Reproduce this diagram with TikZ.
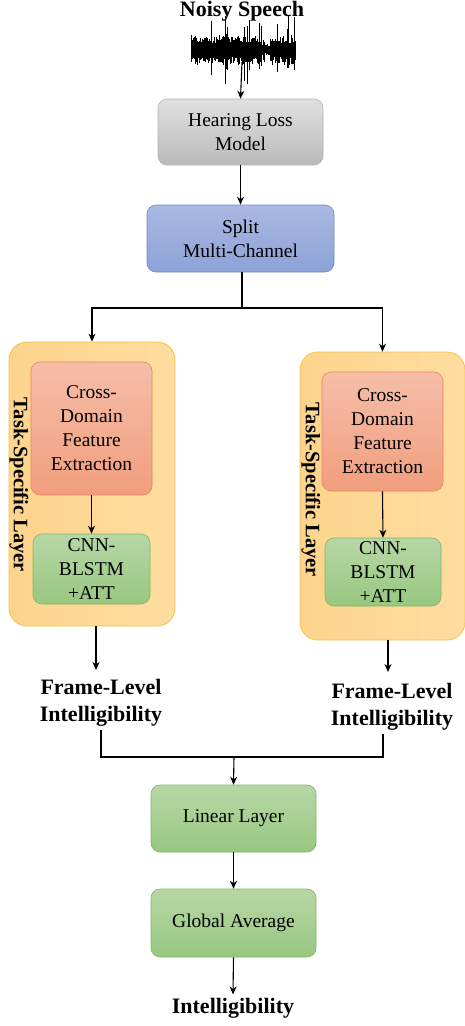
\documentclass[tikz,border=0pt]{standalone}
\usepackage{fontspec}
\setmainfont{Liberation Serif}
\usetikzlibrary{arrows.meta,positioning}
\tikzset{
  box/.style={draw, rounded corners=9pt, align=center, font=\fontsize{19.5}{24}\selectfont, line width=0.6pt, inner sep=0pt},
  grey/.style={box, draw=black!30, top color=black!12, bottom color=black!27},
  blue/.style={box, draw={rgb,255:red,108;green,142;blue,191}, top color={rgb,255:red,170;green,185;blue,226}, bottom color={rgb,255:red,140;green,162;blue,215}},
  salmon/.style={box, draw={rgb,255:red,232;green,132;blue,92}, top color={rgb,255:red,246;green,190;blue,168}, bottom color={rgb,255:red,241;green,158;blue,126}},
  green/.style={box, draw={rgb,255:red,130;green,179;blue,102}, top color={rgb,255:red,183;green,215;blue,166}, bottom color={rgb,255:red,152;green,199;blue,128}},
  outer/.style={draw={rgb,255:red,245;green,194;blue,66}, rounded corners=18pt, line width=0.8pt, left color={rgb,255:red,253;green,212;blue,140}, right color={rgb,255:red,254;green,221;blue,160}, inner sep=0pt},
  lbl/.style={font=\fontsize{22}{27}\selectfont\bfseries, align=center},
  vlbl/.style={font=\fontsize{20.5}{24}\selectfont\bfseries, rotate=-90},
  arr/.style={-{Stealth[length=8pt,width=7pt]}, line width=1.1pt},
  ln/.style={line width=1.1pt},
}
\begin{document}
\begin{tikzpicture}[x=1pt,y=-1pt]
\useasboundingbox (0,0) rectangle (465,1026);
% title
\node[lbl] (ns) at (242,11) {Noisy Speech};
% waveform
\pgfmathsetseed{11}
\foreach \i in {0,...,130}{
  \pgfmathsetmacro\xx{191+\i*0.8}
  \pgfmathsetmacro\env{(\xx>262 && \xx<270) ? 0.4 : 1}
  \pgfmathsetmacro\spk{(rnd>0.88) ? 2.3 : 1}
  \pgfmathsetmacro\aa{\env*\spk*(7+8*rnd)}
  \pgfmathsetmacro\bb{\env*\spk*(7+8*rnd)}
  \draw[line width=1pt] (\xx,{50-\aa}) -- (\xx,{50+\bb});
}
\coordinate (wv) at (242,62);
% boxes
\node[grey, minimum width=165pt, minimum height=66pt] (hl) at (240.5,132) {Hearing Loss\\Model};
\node[blue, minimum width=187pt, minimum height=67pt] (sp) at (240.5,238.5) {Split\\Multi-Channel};
% left branch
\node[outer, minimum width=166pt, minimum height=284pt] (lo) at (92,484) {};
\node[salmon, minimum width=121pt, minimum height=133pt] (lc) at (91.5,428.5) {Cross-\\Domain\\Feature\\Extraction};
\node[green, minimum width=117pt, minimum height=70pt] (lg) at (91.5,569) {CNN-\\BLSTM\\+ATT};
\node[vlbl] (lt) at (19,485) {Task-Specific Layer};
% right branch
\node[outer, minimum width=165pt, minimum height=288pt] (ro) at (382.5,496) {};
\node[salmon, minimum width=121pt, minimum height=119pt] (rc) at (382.5,431.5) {Cross-\\Domain\\Feature\\Extraction};
\node[green, minimum width=116pt, minimum height=68pt] (rg) at (383,572) {CNN-\\BLSTM\\+ATT};
\node[vlbl] (rt) at (311,490) {Task-Specific Layer};
% outputs
\node[lbl] (lf) at (101,703) {Frame-Level\\Intelligibility};
\node[lbl] (rf) at (392,707) {Frame-Level\\Intelligibility};
\node[green, minimum width=165pt, minimum height=67pt] (ll) at (233.5,818.5) {Linear Layer};
\node[green, minimum width=165pt, minimum height=68pt] (ga) at (233.5,923) {Global Average};
\node[lbl] (it) at (233,1008) {Intelligibility};
% connectors
\draw[arr] (wv) -- (hl.north);
\draw[arr] (hl.south) -- (sp.north);
\coordinate (sj) at (242,308);
\draw[ln] (sp.south -| sj) -- (sj);
\draw[arr] (sj) -| (lo.north);
\draw[arr] (sj) -| (ro.north);
\draw[arr] (lc.south) -- (lg.north);
\draw[arr] (rc.south) -- (rg.north);
\coordinate (la) at (96,670);
\coordinate (ra) at (388,672);
\draw[arr] (lo.south -| la) -- (la);
\draw[arr] (ro.south -| ra) -- (ra);
\coordinate (mj) at (234,757);
\draw[ln] (lf.south -| 101,0) |- (mj);
\draw[ln] (rf.south -| 383,0) |- (mj);
\draw[arr] (mj) -- (ll.north);
\draw[arr] (ll.south) -- (ga.north);
\draw[arr] (ga.south) -- (it.north);
\end{tikzpicture}
\end{document}
